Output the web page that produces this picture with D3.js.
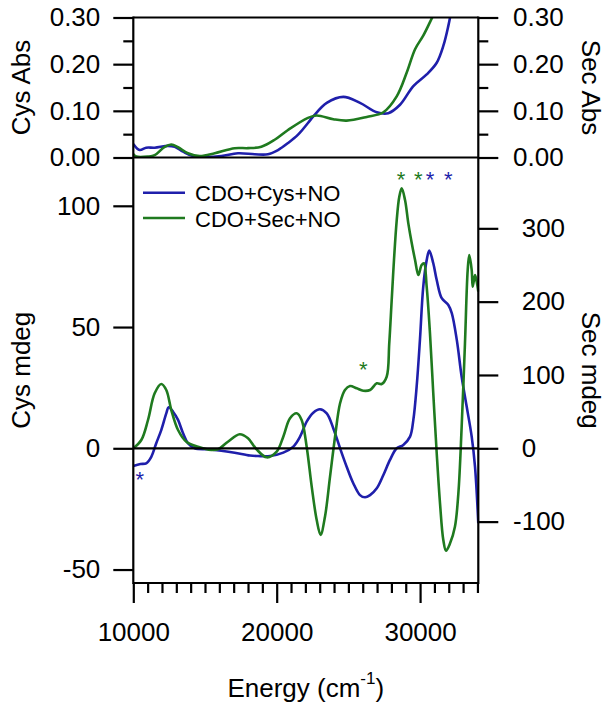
<!DOCTYPE html>
<html>
<head>
<meta charset="utf-8">
<script src="https://cdn.jsdelivr.net/npm/d3@7"></script>
<style>
  html, body { margin: 0; padding: 0; background: #fff; }
  svg { display: block; }
  text { font-family: "Liberation Sans", Arial, sans-serif; fill: #000; }
</style>
</head>
<body>
<svg id="chart" width="612" height="712"></svg>
<script>
// ---------------- DATA ----------------
// Top panel: absorption (Abs)
const cysAbsEnergy = [10000,10440,10900,11490,12420,12890,13470,14160,14980,16140,17300,18470,19390,20090,20790,21490,22180,22550,23490,24650,25810,26980,27780,28600,29530,30460,31160,31620,31970,32150];
const cysAbs       = [0.029,0.016,0.021,0.021,0.025,0.023,0.0125,0.003,0.001,0.003,0.009,0.007,0.007,0.016,0.031,0.049,0.074,0.088,0.117,0.130,0.117,0.097,0.095,0.113,0.153,0.178,0.203,0.239,0.282,0.31];
const secAbsEnergy = [10000,10210,11030,11490,12190,12650,13120,13810,14630,15680,17070,18000,18930,19860,20790,22180,22790,23950,24880,26280,27440,28370,29070,29650,30220,30690,30920];
const secAbs       = [0.0075,0.002,0.002,0.005,0.023,0.028,0.022,0.009,0.003,0.009,0.020,0.020,0.023,0.038,0.059,0.085,0.090,0.082,0.079,0.087,0.097,0.131,0.182,0.232,0.261,0.290,0.305];

// Bottom panel: CD (Cys mdeg on left axis, Sec mdeg on right axis)
const cysCDEnergy = [10000,10500,10900,11255,11600,11950,12300,12470,12770,13120,13470,13810,14280,15210,16140,17070,18140,18700,19530,20460,21160,21630,22090,22550,23020,23490,23950,24420,24880,25340,25810,26160,26510,26980,27440,27900,28370,28830,29300,29530,29760,29990,30220,30460,30640,30920,31160,31510,31970,32210,32560,32900,33250,33600,33830,34060];
const cysCD       = [-7.3,-6.5,-6.2,-3.5,2.1,7.5,14.4,16.9,15.1,11.7,6.2,2.1,0,-0.4,-1.0,-1.8,-3.0,-3.2,-3.2,-1.8,0.7,4.8,11,14.7,16.1,14.4,8.2,0,-7.6,-14.4,-19.3,-20.2,-19.3,-16.5,-11,-4.8,0,1.4,4.8,11.7,25.4,44.7,66.6,77.6,81.5,76.3,69.4,61.9,59.1,55.7,44.7,29.5,17.2,4.8,-7.6,-30.9];
const secCDEnergy = [10000,10560,11025,11490,11950,12300,12650,13120,13700,14510,15440,15910,16600,17420,18000,18580,19300,20000,20460,20930,21400,21740,22090,22440,22790,23060,23370,23720,24070,24420,24760,25110,25580,26040,26510,26980,27320,27670,27850,28020,28180,28370,28550,28720,28950,29180,29420,29650,29880,30110,30270,30460,30690,30920,31160,31390,31620,31810,32090,32430,32670,32900,33130,33320,33430,33600,33670,33830,33950,34060];
const secCD       = [0,11.3,38.6,75,87.7,79.5,52.2,25,9,2.2,-2.3,-1.4,9,19.1,13.6,-1,-12.3,-4.6,15.8,40.9,47.7,38.6,2.2,-52,-97.8,-118,-93,-38.7,15.8,61.4,79.5,85,81.8,78.5,79.5,88.6,87.7,97.6,143,202,256.8,311,343,354.6,338.6,306.8,279.6,256.8,236.3,250,252.3,220.4,156.8,75,-6.8,-75,-125,-139.6,-129.6,-107,-61.4,29.5,143,243,263.6,243,220.4,236.3,227,213.6];

// Asterisk markers (energy, Cys-mdeg level, series)
const starEnergy = [28680, 29880, 30690, 31970, 26040, 10450];
const starLevel  = [112.7, 112.7, 112.7, 112.7, 34.3, -11];
const starSeries = ["sec","sec","cys","cys","sec","cys"];

// Tick values
const absMajorTicks = [0, 0.1, 0.2, 0.3];
const absMinorTicks = [0.05, 0.15, 0.25];
const cysTicks = [-50, 0, 50, 100];
const secTicks = [-100, 0, 100, 200, 300];
const energyMajorTicks = [10000, 20000, 30000];
const energyMinorTicks = d3.range(11000, 34001, 1000).filter(v => v % 10000 !== 0);

const legendLabels = ["CDO+Cys+NO", "CDO+Sec+NO"];

// ---------------- STYLE ----------------
const BLUE = "#1f1fab";
const GREEN = "#1f7a1f";
const FS = 26;

const svg = d3.select("#chart");
const X0 = 133.3, X1 = 478.3;
const TOP0 = 17.5, TOP1 = 157.5, BOT1 = 583;

const x = d3.scaleLinear().domain([10000, 34060]).range([X0, X1]);
const yAbs = d3.scaleLinear().domain([0, 0.30]).range([TOP1, TOP0]);
const yCys = d3.scaleLinear().domain([-55.55, 119.92]).range([BOT1, TOP1]);
const ySec = d3.scaleLinear().domain([-183.7, 396.6]).range([BOT1, TOP1]);

const defs = svg.append("defs");
defs.append("clipPath").attr("id", "clipTop").append("rect")
  .attr("x", X0).attr("y", TOP0).attr("width", X1 - X0).attr("height", TOP1 - TOP0);
defs.append("clipPath").attr("id", "clipBot").append("rect")
  .attr("x", X0).attr("y", TOP1).attr("width", X1 - X0 + 1).attr("height", BOT1 - TOP1);

function drawLine(g, xs, ys, yScale, color, clip) {
  const pts = xs.map((e, i) => [e, ys[i]]);
  const line = d3.line().x(d => x(d[0])).y(d => yScale(d[1])).curve(d3.curveCatmullRom.alpha(0.5));
  g.append("path").datum(pts)
    .attr("d", line)
    .attr("fill", "none")
    .attr("stroke", color)
    .attr("stroke-width", 2.6)
    .attr("stroke-linejoin", "round")
    .attr("clip-path", `url(#${clip})`);
}

const plot = svg.append("g");
// top panel curves
drawLine(plot, cysAbsEnergy, cysAbs, yAbs, BLUE, "clipTop");
drawLine(plot, secAbsEnergy, secAbs, yAbs, GREEN, "clipTop");
// bottom panel curves
drawLine(plot, cysCDEnergy, cysCD, yCys, BLUE, "clipBot");
drawLine(plot, secCDEnergy, secCD, ySec, GREEN, "clipBot");

// ---------------- AXES ----------------
function styleAxis(g) {
  g.select(".domain").remove();
  g.selectAll(".tick line").attr("stroke", "#000").attr("stroke-width", 2.2);
  g.selectAll(".tick text").style("font-size", FS + "px").attr("fill", "#000")
    .style("font-family", '"Liberation Sans", Arial, sans-serif');
}
const fmtAbs = d => d.toFixed(2);
const fmtInt = d => String(d);

// top-left
svg.append("g").attr("transform", `translate(${X0},0)`)
  .call(d3.axisLeft(yAbs).tickValues(absMajorTicks).tickFormat(fmtAbs).tickSize(20).tickPadding(13))
  .call(styleAxis);
svg.append("g").attr("transform", `translate(${X0},0)`)
  .call(d3.axisLeft(yAbs).tickValues(absMinorTicks).tickFormat("").tickSize(10))
  .call(styleAxis);
// top-right
svg.append("g").attr("transform", `translate(${X1},0)`)
  .call(d3.axisRight(yAbs).tickValues(absMajorTicks).tickFormat(fmtAbs).tickSize(20).tickPadding(14.7))
  .call(styleAxis);
svg.append("g").attr("transform", `translate(${X1},0)`)
  .call(d3.axisRight(yAbs).tickValues(absMinorTicks).tickFormat("").tickSize(10))
  .call(styleAxis);
// bottom-left Cys
svg.append("g").attr("transform", `translate(${X0},0)`)
  .call(d3.axisLeft(yCys).tickValues(cysTicks).tickFormat(fmtInt).tickSize(20).tickPadding(13))
  .call(styleAxis);
// bottom-right Sec
const secAx = svg.append("g").attr("transform", `translate(${X1},0)`)
  .call(d3.axisRight(ySec).tickValues(secTicks).tickFormat(fmtInt).tickSize(20).tickPadding(23.4))
  .call(styleAxis);
secAx.selectAll(".tick text").attr("dx", d => d < 0 ? -FS * 0.333 : 0);
// bottom x axis
svg.append("g").attr("transform", `translate(0,${BOT1})`)
  .call(d3.axisBottom(x).tickValues(energyMajorTicks).tickFormat(fmtInt).tickSize(20).tickPadding(19.5))
  .call(styleAxis);
svg.append("g").attr("transform", `translate(0,${BOT1})`)
  .call(d3.axisBottom(x).tickValues(energyMinorTicks).tickFormat("").tickSize(10))
  .call(styleAxis);

// frame lines
const frame = svg.append("g").attr("stroke", "#000").attr("stroke-width", 2.2).attr("fill", "none");
frame.append("line").attr("x1", X0).attr("x2", X1).attr("y1", TOP0).attr("y2", TOP0);
frame.append("line").attr("x1", X0).attr("x2", X1).attr("y1", TOP1).attr("y2", TOP1);
frame.append("line").attr("x1", X0).attr("x2", X1).attr("y1", BOT1).attr("y2", BOT1);
frame.append("line").attr("x1", X0).attr("x2", X0).attr("y1", TOP0 - 1.1).attr("y2", BOT1 + 1.1);
frame.append("line").attr("x1", X1).attr("x2", X1).attr("y1", TOP0 - 1.1).attr("y2", BOT1 + 1.1);
// zero line of CD panel
frame.append("line").attr("x1", X0).attr("x2", X1).attr("y1", yCys(0)).attr("y2", yCys(0));

// ---------------- TITLES ----------------
function vtitle(txt, cx, cy, rot) {
  svg.append("text").attr("transform", `translate(${cx},${cy}) rotate(${rot})`)
    .attr("text-anchor", "middle").style("font-size", FS + "px").text(txt);
}
vtitle("Cys Abs", 30, (TOP0 + TOP1) / 2, -90);
vtitle("Cys mdeg", 30, (TOP1 + BOT1) / 2, -90);
vtitle("Sec Abs", 582, (TOP0 + TOP1) / 2, 90);
vtitle("Sec mdeg", 582, (TOP1 + BOT1) / 2, 90);

const xt = svg.append("text").attr("x", (X0 + X1) / 2).attr("y", 697)
  .attr("text-anchor", "middle").style("font-size", FS + "px");
xt.append("tspan").text("Energy (cm");
xt.append("tspan").attr("dy", -13).style("font-size", "17px").text("-1");
xt.append("tspan").attr("dy", 13).text(")");

// ---------------- LEGEND ----------------
const legColors = [BLUE, GREEN];
const legY = [192.7, 218];
legendLabels.forEach((lab, i) => {
  svg.append("line").attr("x1", 143).attr("x2", 185).attr("y1", legY[i]).attr("y2", legY[i])
    .attr("stroke", legColors[i]).attr("stroke-width", 2.6);
  svg.append("text").attr("x", 195).attr("y", legY[i] + 8.5)
    .style("font-size", "22px").text(lab);
});

// ---------------- ASTERISKS ----------------
starEnergy.forEach((e, i) => {
  svg.append("text").attr("x", x(e)).attr("y", yCys(starLevel[i]) + 12)
    .attr("text-anchor", "middle").style("font-size", "22px")
    .attr("fill", starSeries[i] === "cys" ? BLUE : GREEN)
    .style("fill", starSeries[i] === "cys" ? BLUE : GREEN)
    .text("*");
});
</script>
</body>
</html>
